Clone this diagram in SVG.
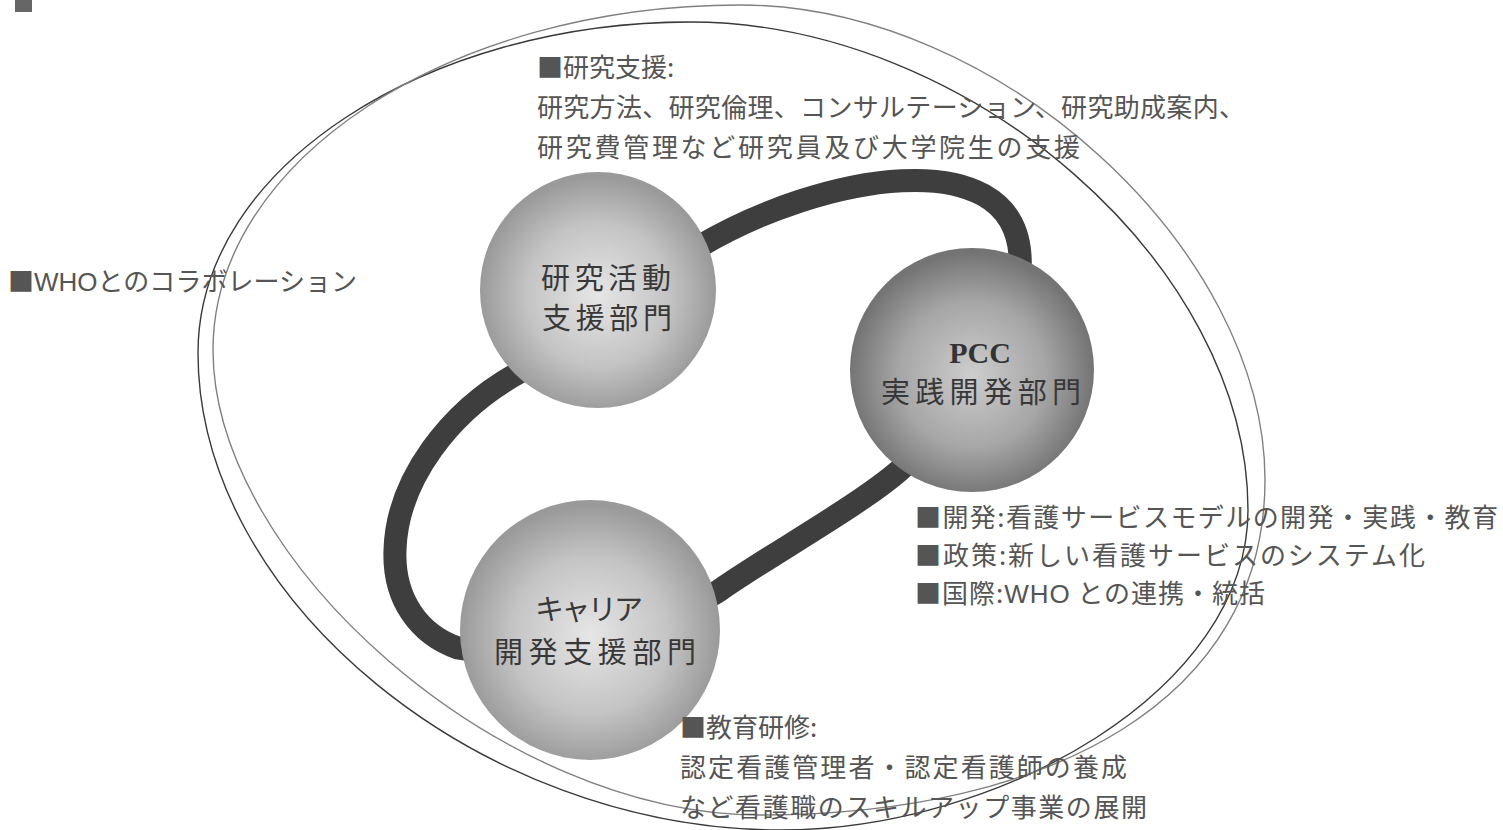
<svg xmlns="http://www.w3.org/2000/svg" width="1503" height="830" viewBox="0 0 1503 830">
<style>
.t{font-family:"Noto Sans CJK JP","Noto Sans",sans-serif;font-size:26px;fill:#555555}
.l{font-family:"Liberation Sans",sans-serif}
.c{font-family:"Noto Sans CJK JP",sans-serif;font-size:29px;fill:#383838;text-anchor:middle}
.p{font-family:"Liberation Serif",serif;font-weight:bold;font-size:30px;fill:#333333;text-anchor:middle}
.e1{fill:none;stroke:#3a3a3a;stroke-width:1.4}
.e2{fill:none;stroke:#808080;stroke-width:1.4}
</style>
<defs>
<radialGradient id="g1" cx="50%" cy="52%" r="50%">
<stop offset="0" stop-color="#e6e6e6"/><stop offset="0.6" stop-color="#c4c4c4"/><stop offset="1" stop-color="#9a9a9a"/>
</radialGradient>
<radialGradient id="g2" cx="50%" cy="52%" r="50%">
<stop offset="0" stop-color="#cdcdcd"/><stop offset="0.6" stop-color="#a6a6a6"/><stop offset="1" stop-color="#747474"/>
</radialGradient>
</defs>
<rect x="15" y="0" width="17" height="12" fill="#666666"/>
<g id="connectors">
<path d="M700,246 C820,175 1012,140 1020,255 C1025,330 960,420 900,470 C860,505 770,555 720,590 C680,618 520,660 458,648 C420,635 393,600 395,550 C397,480 450,410 520,372 C600,330 650,270 700,246 Z" fill="none" stroke="#3e3e3e" stroke-width="23"/>
</g>
<g id="orbit">
<path class="e1" d="M198,353 C198,165 430,22 690,22 C970,22 1248,265 1248,510 C1248,690 1000,830 780,830 C480,830 198,600 198,353 Z"/>
<path class="e2" d="M213,350 C213,160 450,5 740,5 C1000,5 1265,250 1265,480 C1265,700 1050,815 760,815 C500,815 213,560 213,350 Z"/>
</g>
<g id="node-research">
<circle cx="598" cy="290" r="118" fill="url(#g1)"/>
<text class="c" x="606" y="289" textLength="130" lengthAdjust="spacing">研究活動</text>
<text class="c" x="607" y="329" textLength="130" lengthAdjust="spacing">支援部門</text>
</g>
<g id="node-pcc">
<circle cx="972" cy="370" r="122" fill="url(#g2)"/>
<text class="p" x="980" y="363">PCC</text>
<text class="c" x="981" y="403" textLength="200" lengthAdjust="spacing">実践開発部門</text>
</g>
<g id="node-career">
<circle cx="590" cy="630" r="130" fill="url(#g1)"/>
<text class="c" x="589" y="620" textLength="108" lengthAdjust="spacing">キャリア</text>
<text class="c" x="595" y="663" textLength="202" lengthAdjust="spacing">開発支援部門</text>
</g>
<g id="label-research">
<text class="t" x="537" y="77">■研究支援:</text>
<text class="t" x="537" y="117" textLength="708" lengthAdjust="spacing">研究方法、研究倫理、コンサルテーション、研究助成案内、</text>
<text class="t" x="537" y="157" textLength="543" lengthAdjust="spacing">研究費管理など研究員及び大学院生の支援</text>
</g>
<g id="label-who">
<text class="t" x="8" y="291" textLength="349" lengthAdjust="spacing">■<tspan class="l">WHO</tspan>とのコラボレーション</text>
</g>
<g id="label-pcc">
<text class="t" x="915" y="527" textLength="583" lengthAdjust="spacing">■開発:看護サービスモデルの開発・実践・教育</text>
<text class="t" x="915" y="565" textLength="510" lengthAdjust="spacing">■政策:新しい看護サービスのシステム化</text>
<text class="t" x="915" y="603" textLength="350" lengthAdjust="spacing">■国際:<tspan class="l">WHO</tspan> との連携・統括</text>
</g>
<g id="label-career">
<text class="t" x="680" y="737">■教育研修:</text>
<text class="t" x="680" y="777" textLength="447" lengthAdjust="spacing">認定看護管理者・認定看護師の養成</text>
<text class="t" x="680" y="817" textLength="467" lengthAdjust="spacing">など看護職のスキルアップ事業の展開</text>
</g>
</svg>
